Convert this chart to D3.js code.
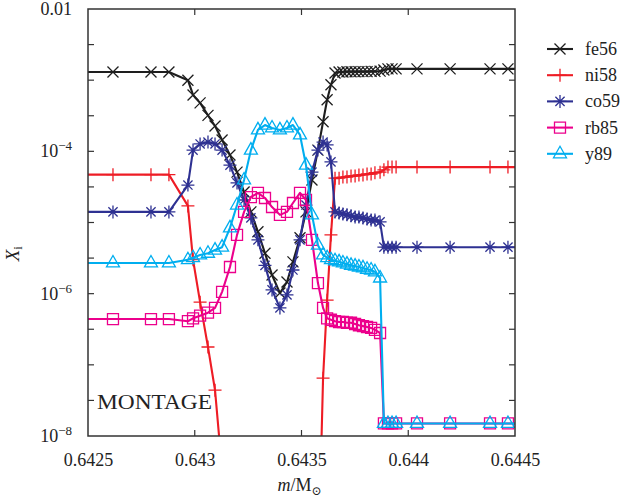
<!DOCTYPE html>
<html>
<head>
<meta charset="utf-8">
<script src="https://cdn.jsdelivr.net/npm/d3@7/dist/d3.min.js"></script>
<style>
    body { margin: 0; background: #fff; }
    svg text { font-family: 'Liberation Serif', 'Times New Roman', serif; fill: #222; }
</style>
</head>
<body>
<div id="chart"></div>
<script>
//Datos: coordenada de masa de cada zona (M_sol)
const masa = [0.64236, 0.642617, 0.642795, 0.642879, 0.642968, 0.642992, 0.643025, 0.643062, 0.643095, 0.643128,
    0.643165, 0.643198, 0.643231, 0.643263, 0.643296, 0.643329, 0.643362, 0.643399, 0.643432, 0.643460,
    0.643493, 0.643521, 0.643549, 0.643577, 0.643601, 0.643620, 0.643638, 0.643657, 0.643676, 0.643694,
    0.643713, 0.643732, 0.643751, 0.643769, 0.643788, 0.643807, 0.643826, 0.643844, 0.643868, 0.643886,
    0.643905, 0.643924, 0.643943, 0.644041, 0.644196, 0.644383, 0.644467, 0.644617];

//Fracciones de masa por especie
const fe56 = [1.30e-3, 1.30e-3, 1.30e-3, 1.30e-3, 1.0e-3, 6.2e-4, 4.8e-4, 3.2e-4, 2.27e-4, 1.44e-4,
    8.9e-5, 5.1e-5, 2.68e-5, 1.41e-5, 7.4e-6, 3.7e-6, 1.83e-6, 1.02e-6, 1.46e-6, 2.8e-6,
    6.1e-6, 1.41e-5, 3.96e-5, 1.04e-4, 2.6e-4, 5.3e-4, 8.6e-4, 1.26e-3, 1.30e-3, 1.30e-3,
    1.31e-3, 1.31e-3, 1.31e-3, 1.32e-3, 1.32e-3, 1.32e-3, 1.33e-3, 1.33e-3, 1.34e-3, 1.39e-3,
    1.44e-3, 1.44e-3, 1.44e-3, 1.44e-3, 1.44e-3, 1.44e-3, 1.44e-3, 1.44e-3];

const ni58 = [4.7e-5, 4.7e-5, 4.7e-5, 4.7e-5, 1.71e-5, 3.0e-6, 7.6e-7, 1.78e-7, 4.4e-8, 3.3e-9,
    1e-10, 1e-10, 1e-10, 1e-10, 1e-10, 1e-10, 1e-10, 1e-10, 1e-10, 1e-10,
    1e-10, 1e-10, 1e-10, 1e-10, 6.5e-8, 8.1e-7, 6.7e-6, 4.2e-5, 4.2e-5, 4.35e-5,
    4.35e-5, 4.5e-5, 4.5e-5, 4.66e-5, 4.66e-5, 4.8e-5, 4.8e-5, 5.0e-5, 5.1e-5, 5.5e-5,
    6.0e-5, 6.0e-5, 6.0e-5, 6.0e-5, 6.0e-5, 6.0e-5, 6.0e-5, 6.0e-5];

const co59 = [1.41e-5, 1.41e-5, 1.41e-5, 1.41e-5, 3.36e-5, 1.04e-4, 1.27e-4, 1.35e-4, 1.27e-4, 1.04e-4,
    6.4e-5, 3.6e-5, 2.07e-5, 1.16e-5, 5.7e-6, 2.5e-6, 1.13e-6, 6.3e-7, 9.6e-7, 2.15e-6,
    5.7e-6, 1.76e-5, 5.1e-5, 1.04e-4, 1.35e-4, 1.23e-4, 7.1e-5, 1.41e-5, 1.36e-5, 1.32e-5,
    1.28e-5, 1.24e-5, 1.19e-5, 1.19e-5, 1.16e-5, 1.12e-5, 1.08e-5, 1.08e-5, 1.02e-5, 4.5e-6,
    4.5e-6, 4.5e-6, 4.5e-6, 4.5e-6, 4.5e-6, 4.5e-6, 4.5e-6, 4.5e-6];

const rb85 = [4.4e-7, 4.4e-7, 4.4e-7, 4.4e-7, 4.1e-7, 4.5e-7, 4.9e-7, 5.4e-7, 6.3e-7, 1.06e-6,
    2.37e-6, 6.7e-6, 1.41e-5, 2.28e-5, 2.6e-5, 2.21e-5, 1.65e-5, 1.28e-5, 1.41e-5, 1.88e-5,
    2.6e-5, 2.07e-5, 5.7e-6, 1.41e-6, 6.3e-7, 4.5e-7, 4.3e-7, 4.1e-7, 4.0e-7, 4.0e-7,
    3.9e-7, 3.9e-7, 3.75e-7, 3.6e-7, 3.5e-7, 3.4e-7, 3.3e-7, 3.1e-7, 2.8e-7, 1.5e-8,
    1.5e-8, 1.5e-8, 1.5e-8, 1.5e-8, 1.5e-8, 1.5e-8, 1.5e-8, 1.5e-8];

const y89 = [2.7e-6, 2.7e-6, 2.7e-6, 2.7e-6, 3.0e-6, 3.2e-6, 3.5e-6, 3.7e-6, 4.1e-6, 4.5e-6,
    8.4e-6, 1.76e-5, 3.96e-5, 1.04e-4, 2.0e-4, 2.34e-4, 2.13e-4, 2.0e-4, 2.13e-4, 2.34e-4,
    1.7e-4, 6.4e-5, 1.28e-5, 4.8e-6, 3.5e-6, 3.2e-6, 3.0e-6, 2.9e-6, 2.8e-6, 2.7e-6,
    2.6e-6, 2.5e-6, 2.44e-6, 2.37e-6, 2.3e-6, 2.2e-6, 2.15e-6, 2.02e-6, 1.66e-6, 1.5e-8,
    1.5e-8, 1.5e-8, 1.5e-8, 1.5e-8, 1.5e-8, 1.5e-8, 1.5e-8, 1.5e-8];

//Etiquetas y ejes
const especies = ['fe56', 'ni58', 'co59', 'rb85', 'y89'];
const xTicks = [0.6425, 0.643, 0.6435, 0.644, 0.6445];
const xTickLabels = ['0.6425', '0.643', '0.6435', '0.644', '0.6445'];
const yTicks = [1e-2, 3.162e-3, 1e-3, 3.162e-4, 1e-4, 3.162e-5, 1e-5, 3.162e-6, 1e-6, 3.162e-7, 1e-7, 3.162e-8, 1e-8];
const yLabelTicks = [1e-2, 1e-4, 1e-6, 1e-8];
const yLabelExp = [null, '\u22124', '\u22126', '\u22128'];

//Colores fijos
const COLORES = {
    fe56: '#1e1e1e',
    ni58: '#ee1c25',
    co59: '#2e3192',
    rb85: '#ec008c',
    y89: '#00aeef'
};

const FUENTE = "'Liberation Serif', 'Times New Roman', serif";

//Marcadores (estilo gnuplot)
const MARCADORES = {
    fe56: 'M-5.5,-5.5L5.5,5.5M-5.5,5.5L5.5,-5.5',
    ni58: 'M-6.5,0H6.5M0,-6.5V6.5',
    co59: 'M-6.5,0H6.5M0,-6.5V6.5M-4.6,-4.6L4.6,4.6M-4.6,4.6L4.6,-4.6',
    rb85: 'M-5.5,-5.5H5.5V5.5H-5.5Z',
    y89: 'M0,-7.5L6.5,4L-6.5,4Z'
};

const series = { fe56: fe56, ni58: ni58, co59: co59, rb85: rb85, y89: y89 };

let margin = {top: 9, right: 108, bottom: 65, left: 88},
    width = 623 - margin.left - margin.right,
    height = 501 - margin.top - margin.bottom;

let svg = d3.select('#chart')
    .append('svg')
        .attr('width', 623)
        .attr('height', 501)
        .attr('font-family', FUENTE)
    .append('g')
        .attr('transform', 'translate(' + margin.left + ',' + margin.top + ')');

let x = d3.scaleLinear()
    .domain([0.6425, 0.6445])
    .range([0, width]);

let y = d3.scaleLog()
    .domain([1e-8, 1e-2])
    .range([height, 0]);

svg.append('clipPath')
    .attr('id', 'clip')
    .append('rect')
    .attr('width', width)
    .attr('height', height);

//Series
let linea = d3.line()
    .x(function(d) { return x(d[0]); })
    .y(function(d) { return y(d[1]); });

let chartG = svg.append('g').attr('clip-path', 'url(#clip)');

especies.forEach(function(esp) {
    let puntos = masa.map(function(m, i) { return [m, series[esp][i]]; });
    let g = chartG.append('g').attr('class', 'serie serie-' + esp);

    g.append('path')
        .datum(puntos)
        .attr('fill', 'none')
        .attr('stroke', COLORES[esp])
        .attr('stroke-width', 2.1)
        .attr('stroke-linejoin', 'round')
        .attr('d', linea);

    g.selectAll('.marker')
        .data(puntos)
        .enter()
        .append('path')
        .attr('class', 'marker')
        .attr('transform', function(d) { return 'translate(' + x(d[0]) + ',' + y(d[1]) + ')'; })
        .attr('d', MARCADORES[esp])
        .attr('fill', 'none')
        .attr('stroke', COLORES[esp])
        .attr('stroke-width', 1.3);
});

//Ejes
let xAxis = function(g) {
    g.call(d3.axisBottom(x).tickValues(xTicks).tickSize(0).tickPadding(17).tickFormat(function(d, i) { return xTickLabels[i]; }));
    g.select('.domain').remove();
    g.attr('font-family', FUENTE);
    g.selectAll('text').attr('font-size', '18px').attr('font-family', FUENTE).attr('fill', '#222');
};

svg.append('g')
    .attr('transform', 'translate(0,' + height + ')')
    .call(xAxis);

//Marcas interiores
let marcas = svg.append('g').attr('stroke', '#333').attr('stroke-width', 1.2);
xTicks.slice(1, -1).forEach(function(t) {
    marcas.append('line').attr('x1', x(t)).attr('x2', x(t)).attr('y1', height).attr('y2', height - 6);
    marcas.append('line').attr('x1', x(t)).attr('x2', x(t)).attr('y1', 0).attr('y2', 6);
});
yTicks.slice(1, -1).forEach(function(t) {
    marcas.append('line').attr('x1', 0).attr('x2', 6).attr('y1', y(t)).attr('y2', y(t));
    marcas.append('line').attr('x1', width).attr('x2', width - 6).attr('y1', y(t)).attr('y2', y(t));
});

//Etiquetas eje y
yLabelTicks.forEach(function(t, i) {
    let txt = svg.append('text')
        .attr('x', -16)
        .attr('y', y(t) + 6)
        .attr('text-anchor', 'end')
        .attr('font-family', FUENTE)
        .attr('font-size', '18px');
    if (yLabelExp[i] === null) {
        txt.text('0.01');
    } else {
        txt.append('tspan').text('10');
        txt.append('tspan').attr('font-size', '13px').attr('dy', -7).text(yLabelExp[i]);
    }
});

//Marco
svg.append('rect')
    .attr('width', width)
    .attr('height', height)
    .attr('fill', 'none')
    .attr('stroke', '#333')
    .attr('stroke-width', 1.5);

//Títulos de ejes
let xLabel = svg.append('text')
    .attr('x', x(0.6435) - 2)
    .attr('y', height + 55)
    .attr('text-anchor', 'middle')
    .attr('font-family', FUENTE)
    .attr('font-size', '18px');
xLabel.append('tspan').attr('font-style', 'italic').text('m');
xLabel.append('tspan').text('/M');
xLabel.append('tspan').attr('font-size', '12px').attr('dy', 4).attr('font-family', "'DejaVu Serif', serif").text('\u2299');

let yLabel = svg.append('text')
    .attr('transform', 'translate(' + (-69) + ',' + (y(3.2e-6) - 4) + ') rotate(-90)')
    .attr('text-anchor', 'middle')
    .attr('font-family', FUENTE)
    .attr('font-size', '19px');
yLabel.append('tspan').attr('font-style', 'italic').text('X');
yLabel.append('tspan').attr('font-size', '13px').attr('dy', 3).text('i');

//Texto interior
svg.append('text')
    .attr('x', 9)
    .attr('y', 400)
    .attr('font-family', FUENTE)
    .attr('font-size', '21px')
    .attr('textLength', 115)
    .attr('lengthAdjust', 'spacingAndGlyphs')
    .text('MONTAGE');

//Leyenda
let leyenda = svg.append('g')
    .attr('transform', 'translate(' + (width + 32) + ',0)');

especies.forEach(function(esp, i) {
    let fila = leyenda.append('g').attr('transform', 'translate(0,' + (40 + i * 26.2) + ')');
    fila.append('line')
        .attr('x1', 0).attr('x2', 26)
        .attr('stroke', COLORES[esp])
        .attr('stroke-width', 2.1);
    fila.append('path')
        .attr('transform', 'translate(13,0)')
        .attr('d', MARCADORES[esp])
        .attr('fill', 'none')
        .attr('stroke', COLORES[esp])
        .attr('stroke-width', 1.3);
    fila.append('text')
        .attr('x', 38)
        .attr('y', 6)
        .attr('font-family', FUENTE)
        .attr('font-size', '18px')
        .text(esp);
});
</script>
</body>
</html>
